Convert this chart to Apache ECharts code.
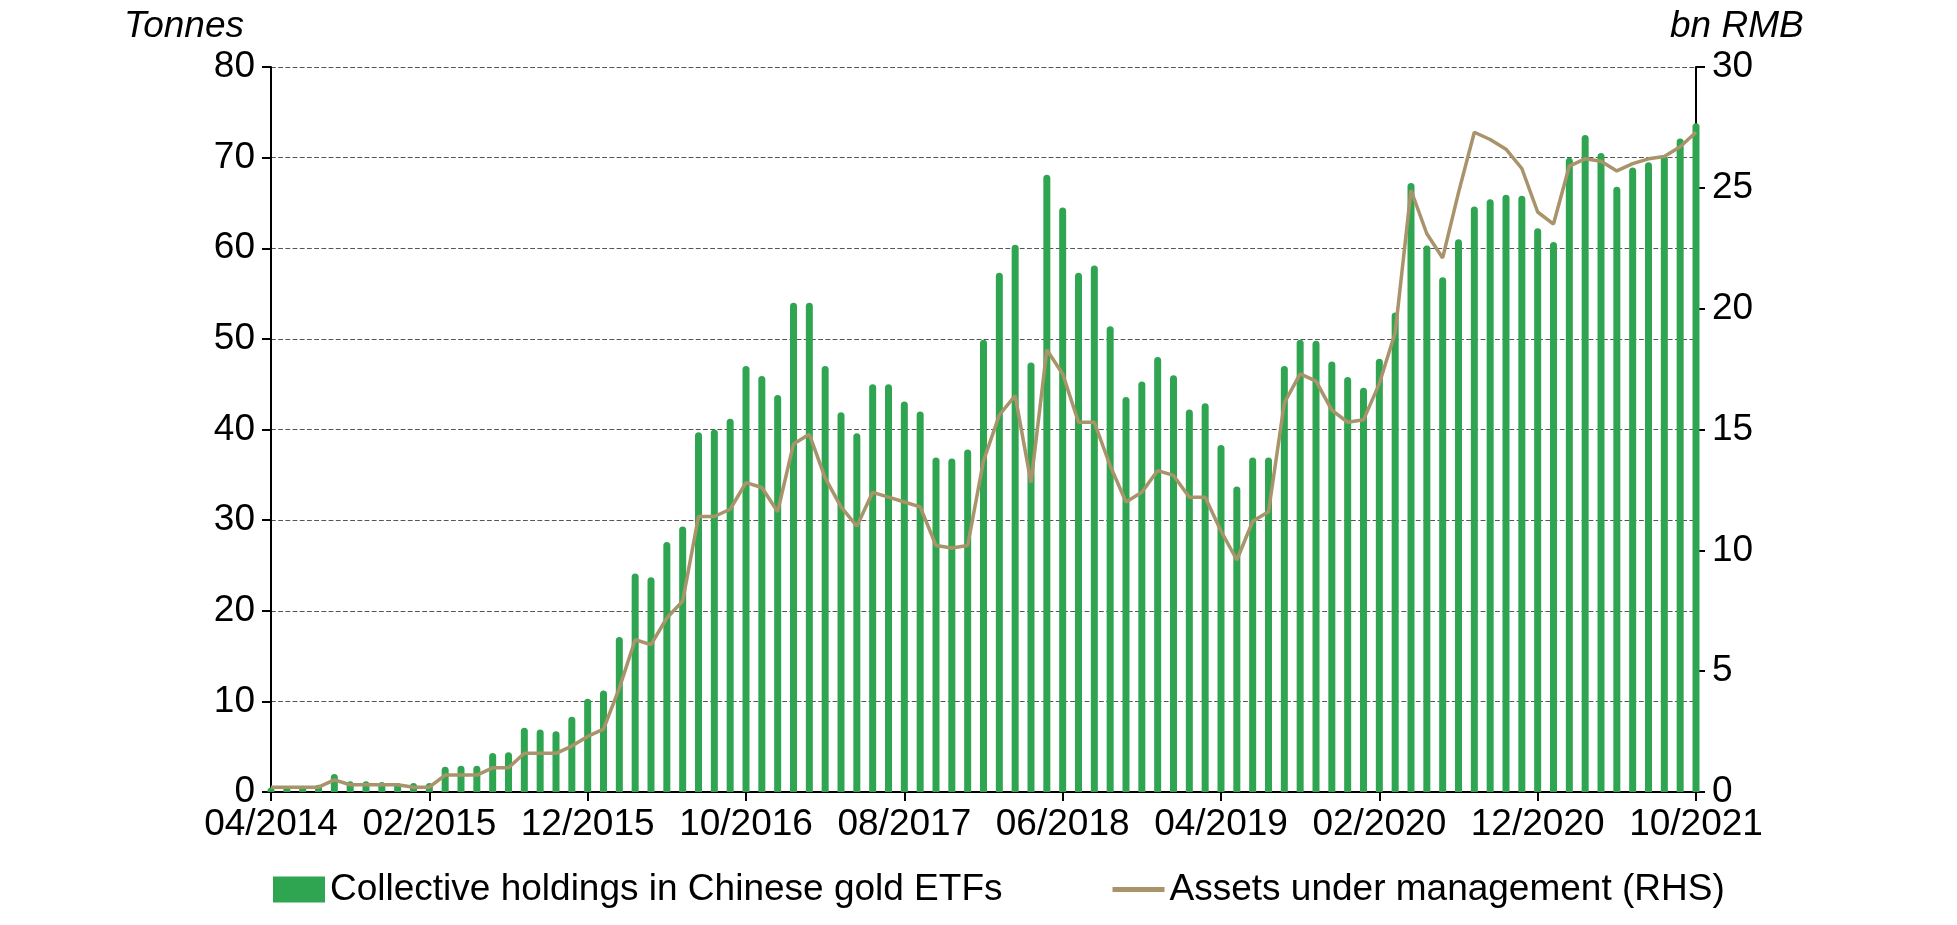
<!DOCTYPE html>
<html lang="en">
<head>
<meta charset="UTF-8">
<title>Chinese gold ETFs</title>
<style>
  html, body { margin: 0; padding: 0; background: #fff; }
  #chart { width: 1957px; height: 925px; }
</style>
</head>
<body>
<div id="chart"></div>
<script src="https://cdn.jsdelivr.net/npm/echarts@6/dist/echarts.min.js"></script>
<script>
// monthly, 04/2014 .. 10/2021
var months = [];
for (var y = 2014, m = 4; y < 2021 || (y === 2021 && m <= 10); m++) {
  if (m > 12) { m = 1; y++; }
  if (y === 2021 && m > 10) break;
  months.push((m < 10 ? '0' + m : '' + m) + '/' + y);
}

var holdings = [
  0.5, 0.6, 0.7, 0.8, 2.0, 1.2, 1.2, 1.1, 1.0, 1.0, 1.0,
  2.8, 2.9, 2.9, 4.3, 4.4, 7.1, 6.9, 6.7, 8.3,
  10.3, 11.2, 17.1, 24.1, 23.7, 27.6, 29.3, 39.7, 40.0, 41.2,
  47.0, 45.9, 43.8, 54.0, 54.0, 47.0, 41.9, 39.6, 45.0, 45.0,
  43.1, 42.0, 36.9, 36.8, 37.8, 49.9, 57.3, 60.4, 47.4, 68.1,
  64.5, 57.3, 58.1, 51.4, 43.6, 45.3, 48.0, 46.0, 42.2, 42.9,
  38.3, 33.7, 36.9, 36.9, 47.0, 49.9, 49.8, 47.5, 45.8, 44.6,
  47.8, 52.9, 67.2, 60.3, 56.8, 61.0, 64.6, 65.4, 65.9, 65.8,
  62.2, 60.7, 70.0, 72.5, 70.5, 66.8, 68.9, 69.5, 70.2, 72.1,
  73.8
];

var aum = [
  0.2, 0.2, 0.2, 0.2, 0.5, 0.3, 0.3, 0.3, 0.3, 0.2, 0.2,
  0.7, 0.7, 0.7, 1.0, 1.0, 1.6, 1.6, 1.6, 1.9,
  2.3, 2.6, 4.3, 6.3, 6.1, 7.2, 7.9, 11.4, 11.4, 11.7,
  12.8, 12.6, 11.6, 14.4, 14.8, 13.0, 11.8, 11.0, 12.4, 12.2,
  12.0, 11.8, 10.2, 10.1, 10.2, 13.7, 15.6, 16.4, 12.8, 18.3,
  17.3, 15.3, 15.3, 13.5, 12.0, 12.4, 13.3, 13.1, 12.2, 12.2,
  10.8, 9.6, 11.2, 11.6, 16.1, 17.3, 17.0, 15.8, 15.3, 15.4,
  16.9, 19.0, 24.9, 23.1, 22.1, 24.8, 27.3, 27.0, 26.6, 25.8,
  24.0, 23.5, 25.9, 26.2, 26.1, 25.7, 26.0, 26.2, 26.3, 26.7,
  27.3
];

var chart = echarts.init(document.getElementById('chart'));
var font = 'Liberation Sans, Arial, sans-serif';
var fs = 37;
var axisLine = { show: true, lineStyle: { color: '#000', width: 2 } };
var axisTick = { show: true, inside: false, length: 9, lineStyle: { color: '#000', width: 2 } };

chart.setOption({
  animation: false,
  textStyle: { fontFamily: font },
  grid: { left: 271, right: 261, top: 67, bottom: 133 },
  legend: {
    bottom: 12,
    left: 268,
    itemGap: 110,
    itemWidth: 52,
    itemHeight: 26,
    textStyle: { fontSize: fs, color: '#000', fontFamily: font },
    data: [
      { name: 'Collective holdings in Chinese gold ETFs', icon: 'rect' },
      { name: 'Assets under management (RHS)', icon: 'path://M0,10 L10,10 L10,11 L0,11 Z' }
    ]
  },
  xAxis: {
    type: 'category',
    data: months,
    boundaryGap: false,
    axisLine: axisLine,
    axisTick: { show: true, interval: 9, length: 9, lineStyle: { color: '#000', width: 2 } },
    axisLabel: { interval: 9, fontSize: fs, color: '#000', margin: 14, showMaxLabel: true },
    splitLine: { show: false }
  },
  yAxis: [
    {
      type: 'value', min: 0, max: 80, interval: 10,
      name: 'Tonnes', nameLocation: 'end', nameGap: 22,
      nameTextStyle: { fontSize: fs, fontStyle: 'italic', color: '#000', align: 'right', padding: [0, 27, 0, 0] },
      axisLine: axisLine, axisTick: axisTick,
      axisLabel: { fontSize: fs, color: '#000', margin: 16 },
      splitLine: { show: true, lineStyle: { color: '#555', type: 'dashed', width: 1.2 } }
    },
    {
      type: 'value', min: 0, max: 30, interval: 5,
      name: 'bn RMB', nameLocation: 'end', nameGap: 22,
      nameTextStyle: { fontSize: fs, fontStyle: 'italic', color: '#000', align: 'left', padding: [0, 0, 0, -26] },
      axisLine: axisLine, axisTick: axisTick,
      axisLabel: { fontSize: fs, color: '#000', margin: 16 },
      splitLine: { show: false }
    }
  ],
  series: [
    {
      name: 'Collective holdings in Chinese gold ETFs',
      type: 'bar',
      data: holdings,
      barWidth: 7,
      itemStyle: { color: '#2fa552', borderRadius: [4, 4, 0, 0] }
    },
    {
      name: 'Assets under management (RHS)',
      type: 'line',
      yAxisIndex: 1,
      data: aum,
      symbol: 'none',
      lineStyle: { color: '#a8936a', width: 3.5 },
      itemStyle: { color: '#a8936a' }
    }
  ]
});
</script>
</body>
</html>
